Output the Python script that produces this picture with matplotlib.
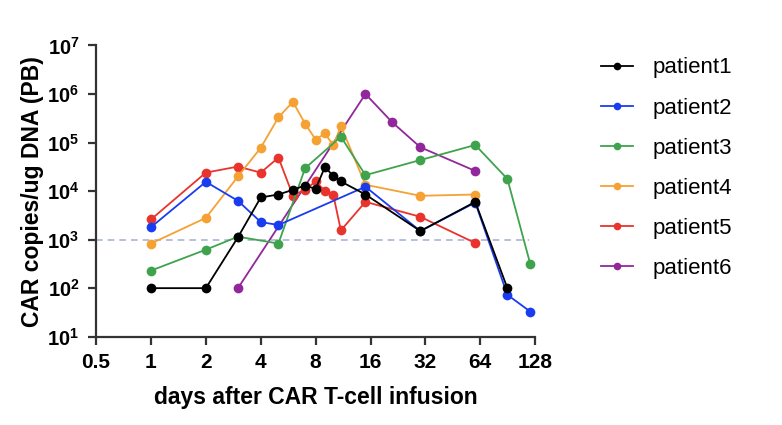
import matplotlib
matplotlib.use("Agg")
import matplotlib.pyplot as plt
from matplotlib.lines import Line2D

plt.rcParams["font.family"] = ["Liberation Sans", "DejaVu Sans"]
plt.rcParams["mathtext.fontset"] = "custom"
plt.rcParams["mathtext.rm"] = "Liberation Sans:bold"
plt.rcParams["mathtext.bf"] = "Liberation Sans:bold"

# donnees (jours, copies CAR / ug ADN)
p1_days = [1, 2, 3, 4, 5, 6, 7, 8, 9, 10, 11, 15, 30, 60, 90]
p1_vals = [100, 100, 1120, 7400, 8500, 10600, 13000, 11100, 31600, 20200, 15800, 8500, 1500, 6000, 100]

p2_days = [1, 2, 3, 4, 5, 15, 30, 60, 90, 120]
p2_vals = [1800, 15500, 6300, 2300, 2000, 12300, 1500, 5800, 73, 33]

p3_days = [1, 2, 3, 5, 7, 11, 15, 30, 60, 90, 120]
p3_vals = [230, 620, 1150, 830, 29500, 132000, 21300, 43600, 89000, 17800, 320]

p4_days = [1, 2, 3, 4, 5, 6, 7, 8, 9, 10, 11, 15, 30, 60]
p4_vals = [830, 2800, 20000, 78000, 330000, 690000, 245000, 115000, 154000, 87000, 220000, 13500, 8000, 8500]

p5_days = [1, 2, 3, 4, 5, 6, 7, 8, 9, 10, 11, 15, 30, 60]
p5_vals = [2600, 24000, 32000, 24000, 49000, 8100, 10700, 15800, 10000, 8300, 1550, 6000, 2950, 850]

p6_days = [3, 15, 21, 30, 60]
p6_vals = [100, 1000000, 263000, 80000, 26000]

noms = ["patient1", "patient2", "patient3", "patient4", "patient5", "patient6"]
couleurs = ["#000000", "#1a3cf0", "#3fa34d", "#f5a133", "#e8342c", "#92279c"]
series = [(p1_days, p1_vals), (p2_days, p2_vals), (p3_days, p3_vals),
          (p4_days, p4_vals), (p5_days, p5_vals), (p6_days, p6_vals)]

x_ticks = [0.5, 1, 2, 4, 8, 16, 32, 64, 128]
x_labels = ["0.5", "1", "2", "4", "8", "16", "32", "64", "128"]
y_ticks = [1e1, 1e2, 1e3, 1e4, 1e5, 1e6, 1e7]
y_labels = [r"$10^{%d}$" % k for k in range(1, 8)]
seuil = 1e3

fig = plt.figure(figsize=(7.82, 4.25), dpi=100)
ax = fig.add_axes([0.1228, 0.2078, 0.5617, 0.6852])

ax.axhline(seuil, xmin=0.0, xmax=0.985, color="#a9b4d6", linestyle=(0, (4, 3)), linewidth=1.2, zorder=1)

# patient2 sous patient1 pour les points superposes
ordre = [5, 3, 4, 2, 1, 0]
for i in ordre:
    d, v = series[i]
    ax.plot(d, v, color=couleurs[i], linewidth=1.3, marker="o", markersize=7,
            markeredgewidth=0, zorder=2 + (6 - i) * 0.1)

ax.set_xscale("log", base=2)
ax.set_yscale("log")
ax.set_xlim(0.5, 128)
ax.set_ylim(10, 1e7)
ax.set_xticks(x_ticks)
ax.set_xticklabels(x_labels, fontsize=15, fontweight="bold")
ax.set_yticks(y_ticks)
ax.set_yticklabels(y_labels, fontsize=14.5)
ax.minorticks_off()

for s in ["top", "right"]:
    ax.spines[s].set_visible(False)
for s in ["left", "bottom"]:
    ax.spines[s].set_linewidth(1.6)
    ax.spines[s].set_color("#333333")
ax.tick_params(width=1.6, length=6, color="#333333", pad=6)

ax.set_xlabel("days after CAR T-cell infusion", fontsize=16.5, fontweight="bold", labelpad=10)
ax.set_ylabel("CAR copies/ug DNA (PB)", fontsize=16.5, fontweight="bold", labelpad=2)

poignees = [Line2D([0], [0], color=c, linewidth=1.3, marker="o", markersize=5.5, markeredgewidth=0)
            for c in couleurs]
fig.legend(poignees, noms, loc="upper left", bbox_to_anchor=(0.743, 0.912),
           frameon=False, fontsize=16, handlelength=1.45, handletextpad=0.85,
           labelspacing=0.86)

fig.savefig("out.png", dpi=100)
